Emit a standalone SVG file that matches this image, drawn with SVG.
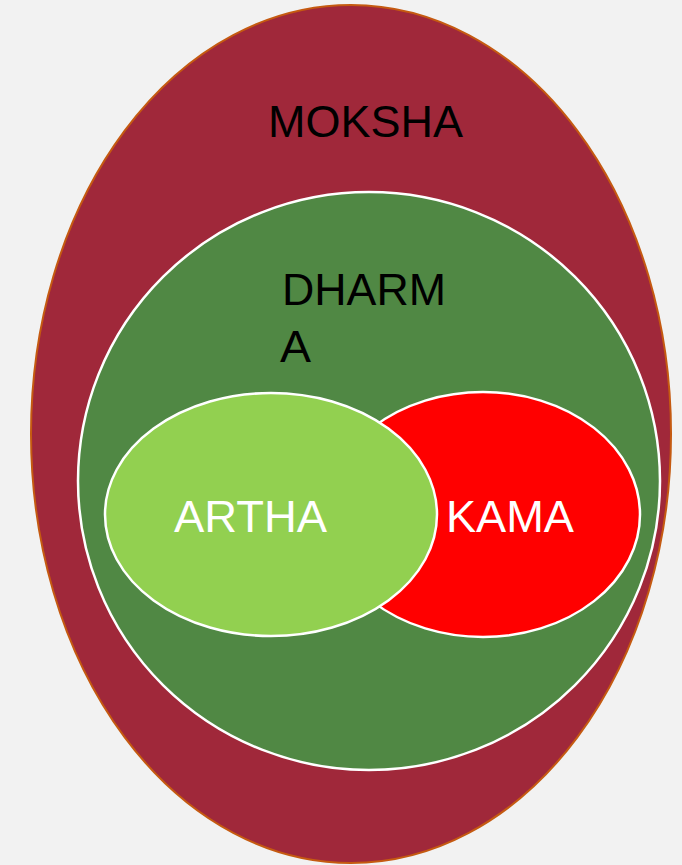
<svg xmlns="http://www.w3.org/2000/svg" width="682" height="865" viewBox="0 0 682 865">
<style>
.lbl{font-family:"Gill Sans","Liberation Sans",Arial,sans-serif;font-size:44px}
.dark{fill:#000}
.light{fill:#fff}
</style>
<rect width="682" height="865" fill="#f2f2f2"/>
<g id="moksha">
<ellipse cx="351" cy="434" rx="320" ry="429" fill="#a0283a" stroke="#c55a11" stroke-width="2"/>
<text class="lbl dark" x="268" y="137" textLength="195" lengthAdjust="spacingAndGlyphs">MOKSHA</text>
</g>
<g id="dharma">
<ellipse cx="369" cy="481" rx="291" ry="289" fill="#508844" stroke="#fff" stroke-width="2.5"/>
<text class="lbl dark" x="282" y="305" textLength="164" lengthAdjust="spacingAndGlyphs">DHARM</text>
<text class="lbl dark" x="280" y="362" textLength="31" lengthAdjust="spacingAndGlyphs">A</text>
</g>
<g id="kama">
<ellipse cx="483" cy="514.5" rx="157" ry="122.5" fill="#ff0000" stroke="#fff" stroke-width="2.5"/>
<text class="lbl light" x="446" y="532" textLength="128" lengthAdjust="spacingAndGlyphs">KAMA</text>
</g>
<g id="artha">
<ellipse cx="271" cy="514.5" rx="166" ry="121.5" fill="#92d050" stroke="#fff" stroke-width="2.5"/>
<text class="lbl light" x="174" y="532" textLength="153" lengthAdjust="spacingAndGlyphs">ARTHA</text>
</g>
<g id="connectors"/>
</svg>
